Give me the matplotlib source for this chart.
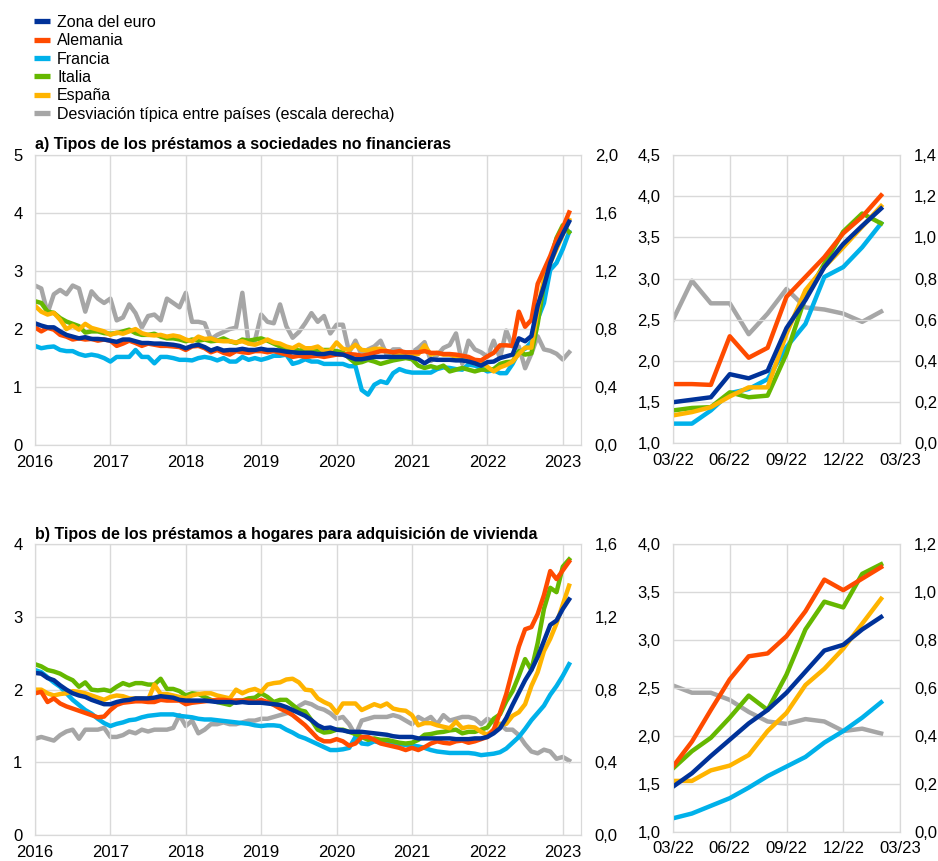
import numpy as np
import matplotlib
matplotlib.use("Agg")
import matplotlib.pyplot as plt
from matplotlib.ticker import FuncFormatter, MultipleLocator

plt.rcParams['font.family'] = ['Liberation Sans', 'DejaVu Sans']

# monthly data, Jan 2016 - Feb 2023
# a) loans to non-financial corporations
nfc_ea = [2.10, 2.06, 2.03, 2.03, 1.96, 1.90, 1.87, 1.84, 1.86, 1.83, 1.83, 1.82,
          1.80, 1.78, 1.82, 1.82, 1.79, 1.76, 1.76, 1.75, 1.75, 1.74, 1.73, 1.71,
          1.67, 1.71, 1.73, 1.69, 1.63, 1.67, 1.63, 1.64, 1.64, 1.66, 1.64, 1.64,
          1.66, 1.64, 1.64, 1.63, 1.61, 1.60, 1.59, 1.59, 1.59, 1.57, 1.57, 1.59,
          1.57, 1.56, 1.52, 1.48, 1.48, 1.50, 1.52, 1.52, 1.52, 1.52, 1.52, 1.52,
          1.51, 1.48, 1.41, 1.48, 1.47, 1.47, 1.47, 1.46, 1.46, 1.44, 1.41, 1.37,
          1.43, 1.44, 1.50, 1.53, 1.56, 1.84, 1.79, 1.88, 2.40, 2.74, 3.14, 3.42,
          3.64, 3.85]
nfc_de = [2.03, 1.96, 2.02, 1.99, 1.90, 1.87, 1.82, 1.84, 1.82, 1.83, 1.80, 1.82,
          1.80, 1.71, 1.75, 1.80, 1.76, 1.71, 1.75, 1.73, 1.71, 1.71, 1.70, 1.69,
          1.64, 1.70, 1.71, 1.67, 1.60, 1.64, 1.59, 1.56, 1.62, 1.60, 1.59, 1.62,
          1.62, 1.60, 1.62, 1.59, 1.56, 1.52, 1.54, 1.52, 1.53, 1.54, 1.52, 1.54,
          1.56, 1.56, 1.57, 1.56, 1.54, 1.56, 1.59, 1.62, 1.62, 1.60, 1.62, 1.60,
          1.60, 1.60, 1.62, 1.59, 1.59, 1.57, 1.57, 1.56, 1.54, 1.52, 1.47, 1.46,
          1.53, 1.59, 1.72, 1.72, 1.71, 2.30, 2.04, 2.16, 2.78, 3.02, 3.26, 3.55,
          3.75, 4.01]
nfc_fr = [1.71, 1.67, 1.69, 1.70, 1.64, 1.62, 1.62, 1.57, 1.54, 1.56, 1.54, 1.50,
          1.44, 1.52, 1.52, 1.52, 1.64, 1.52, 1.52, 1.41, 1.52, 1.52, 1.50, 1.47,
          1.47, 1.46, 1.50, 1.52, 1.50, 1.46, 1.50, 1.44, 1.44, 1.52, 1.47, 1.50,
          1.47, 1.50, 1.54, 1.54, 1.56, 1.40, 1.43, 1.48, 1.44, 1.44, 1.40, 1.40,
          1.40, 1.40, 1.36, 1.36, 0.95, 0.87, 1.04, 1.10, 1.07, 1.24, 1.31, 1.27,
          1.25, 1.25, 1.25, 1.25, 1.31, 1.34, 1.33, 1.31, 1.30, 1.39, 1.37, 1.33,
          1.27, 1.29, 1.24, 1.24, 1.40, 1.61, 1.66, 1.78, 2.17, 2.45, 3.02, 3.14,
          3.38, 3.67]
nfc_it = [2.48, 2.45, 2.30, 2.28, 2.19, 2.13, 2.09, 2.05, 1.94, 1.96, 1.96, 1.93,
          1.92, 1.93, 1.96, 1.99, 1.93, 1.90, 1.90, 1.92, 1.87, 1.84, 1.84, 1.82,
          1.79, 1.82, 1.80, 1.82, 1.79, 1.80, 1.84, 1.79, 1.76, 1.82, 1.80, 1.82,
          1.84, 1.80, 1.75, 1.70, 1.64, 1.67, 1.63, 1.64, 1.66, 1.63, 1.64, 1.64,
          1.62, 1.60, 1.50, 1.41, 1.43, 1.47, 1.44, 1.40, 1.43, 1.46, 1.48, 1.50,
          1.48, 1.37, 1.33, 1.36, 1.33, 1.37, 1.27, 1.30, 1.33, 1.30, 1.27, 1.30,
          1.30, 1.31, 1.40, 1.43, 1.44, 1.62, 1.56, 1.58, 2.09, 2.78, 3.18, 3.57,
          3.79, 3.67]
nfc_es = [2.40, 2.30, 2.25, 2.28, 2.16, 2.00, 2.06, 1.99, 2.09, 2.02, 1.99, 1.96,
          1.90, 1.94, 1.92, 1.96, 2.00, 1.93, 1.90, 1.89, 1.90, 1.87, 1.89, 1.87,
          1.82, 1.79, 1.87, 1.83, 1.84, 1.80, 1.79, 1.79, 1.77, 1.79, 1.75, 1.73,
          1.77, 1.82, 1.77, 1.75, 1.70, 1.67, 1.73, 1.67, 1.67, 1.70, 1.62, 1.63,
          1.77, 1.66, 1.64, 1.73, 1.64, 1.63, 1.66, 1.66, 1.62, 1.59, 1.59, 1.59,
          1.56, 1.57, 1.72, 1.56, 1.59, 1.56, 1.56, 1.52, 1.52, 1.47, 1.41, 1.44,
          1.35, 1.27, 1.34, 1.38, 1.44, 1.57, 1.68, 1.68, 2.33, 2.86, 3.14, 3.38,
          3.63, 3.88]
nfc_sd = [1.10, 1.08, 0.91, 1.04, 1.07, 1.04, 1.10, 1.08, 0.92, 1.06, 1.01, 0.98,
          1.01, 0.86, 0.88, 0.97, 0.91, 0.81, 0.89, 0.90, 0.86, 1.01, 0.98, 0.95,
          1.05, 0.85, 0.85, 0.84, 0.73, 0.76, 0.78, 0.80, 0.81, 1.05, 0.70, 0.72,
          0.90, 0.85, 0.84, 0.97, 0.82, 0.74, 0.78, 0.84, 0.91, 0.85, 0.89, 0.77,
          0.83, 0.83, 0.64, 0.72, 0.62, 0.66, 0.68, 0.72, 0.62, 0.66, 0.66, 0.62,
          0.64, 0.67, 0.71, 0.58, 0.62, 0.67, 0.69, 0.77, 0.56, 0.72, 0.66, 0.64,
          0.61, 0.72, 0.60, 0.79, 0.68, 0.68, 0.53, 0.63, 0.75, 0.66, 0.65, 0.63,
          0.59, 0.64]

# b) loans to households for house purchase
hh_ea = [2.23, 2.22, 2.16, 2.13, 2.06, 2.00, 1.95, 1.92, 1.90, 1.86, 1.83, 1.80,
         1.80, 1.83, 1.85, 1.86, 1.88, 1.88, 1.88, 1.89, 1.91, 1.90, 1.89, 1.86,
         1.85, 1.85, 1.85, 1.85, 1.84, 1.83, 1.83, 1.83, 1.82, 1.83, 1.82, 1.82,
         1.82, 1.81, 1.80, 1.79, 1.76, 1.72, 1.68, 1.64, 1.58, 1.51, 1.47, 1.48,
         1.45, 1.44, 1.42, 1.42, 1.42, 1.41, 1.40, 1.39, 1.38, 1.36, 1.35, 1.35,
         1.35, 1.33, 1.33, 1.33, 1.33, 1.33, 1.33, 1.32, 1.32, 1.32, 1.33, 1.33,
         1.35, 1.40, 1.47, 1.61, 1.79, 1.96, 2.13, 2.27, 2.45, 2.67, 2.89, 2.95,
         3.11, 3.24]
hh_de = [1.95, 1.97, 1.83, 1.88, 1.81, 1.77, 1.74, 1.71, 1.68, 1.65, 1.62, 1.63,
         1.72, 1.79, 1.82, 1.83, 1.84, 1.84, 1.83, 1.83, 1.86, 1.85, 1.85, 1.85,
         1.80, 1.82, 1.83, 1.84, 1.85, 1.86, 1.86, 1.85, 1.85, 1.85, 1.85, 1.83,
         1.86, 1.83, 1.79, 1.74, 1.70, 1.65, 1.58, 1.51, 1.42, 1.33, 1.29, 1.29,
         1.32, 1.29, 1.23, 1.26, 1.35, 1.35, 1.31, 1.26, 1.24, 1.22, 1.20, 1.17,
         1.20, 1.17, 1.21, 1.26, 1.29, 1.27, 1.26, 1.29, 1.30, 1.27, 1.29, 1.32,
         1.35, 1.45, 1.68, 1.94, 2.27, 2.59, 2.83, 2.86, 3.04, 3.30, 3.63, 3.52,
         3.64, 3.76]
hh_fr = [2.27, 2.24, 2.17, 2.10, 2.04, 1.95, 1.86, 1.79, 1.72, 1.67, 1.60, 1.54,
         1.50, 1.53, 1.55, 1.58, 1.59, 1.62, 1.64, 1.65, 1.66, 1.66, 1.66, 1.64,
         1.63, 1.62, 1.60, 1.59, 1.59, 1.58, 1.57, 1.56, 1.55, 1.54, 1.53, 1.51,
         1.50, 1.51, 1.51, 1.50, 1.45, 1.41, 1.36, 1.33, 1.29, 1.25, 1.21, 1.17,
         1.17, 1.18, 1.20, 1.35, 1.26, 1.25, 1.29, 1.27, 1.26, 1.26, 1.25, 1.24,
         1.23, 1.22, 1.20, 1.17, 1.15, 1.14, 1.13, 1.13, 1.13, 1.13, 1.12, 1.10,
         1.11, 1.12, 1.14, 1.19, 1.27, 1.35, 1.46, 1.58, 1.68, 1.78, 1.93, 2.05,
         2.19, 2.35]
hh_it = [2.35, 2.32, 2.27, 2.25, 2.22, 2.17, 2.13, 2.04, 2.10, 2.00, 1.99, 2.00,
         1.98, 2.04, 2.09, 2.06, 2.09, 2.09, 2.07, 2.07, 2.15, 2.01, 2.01, 1.98,
         1.92, 1.95, 1.94, 1.90, 1.86, 1.83, 1.81, 1.79, 1.85, 1.85, 1.88, 1.89,
         1.95, 1.90, 1.83, 1.86, 1.86, 1.79, 1.72, 1.70, 1.58, 1.45, 1.41, 1.42,
         1.45, 1.45, 1.42, 1.39, 1.35, 1.31, 1.33, 1.31, 1.31, 1.29, 1.27, 1.26,
         1.27, 1.31, 1.38, 1.39, 1.41, 1.42, 1.44, 1.45, 1.40, 1.42, 1.42, 1.45,
         1.48, 1.60, 1.66, 1.84, 1.98, 2.19, 2.42, 2.27, 2.64, 3.11, 3.40, 3.34,
         3.69, 3.79]
hh_es = [2.00, 2.00, 1.95, 1.92, 1.94, 1.95, 1.98, 1.97, 1.95, 1.92, 1.89, 1.86,
         1.90, 1.92, 1.91, 1.88, 1.88, 1.88, 1.86, 2.07, 1.94, 1.94, 1.92, 1.90,
         1.88, 1.92, 1.94, 1.95, 1.95, 1.92, 1.90, 1.88, 2.00, 1.95, 1.99, 2.01,
         1.97, 2.07, 2.09, 2.10, 2.14, 2.15, 2.10, 2.00, 1.99, 1.88, 1.83, 1.79,
         1.68, 1.81, 1.81, 1.81, 1.72, 1.76, 1.80, 1.77, 1.81, 1.74, 1.72, 1.71,
         1.65, 1.51, 1.54, 1.54, 1.51, 1.49, 1.47, 1.56, 1.47, 1.49, 1.48, 1.42,
         1.38, 1.45, 1.53, 1.53, 1.64, 1.69, 1.80, 2.05, 2.24, 2.53, 2.70, 2.91,
         3.17, 3.43]
hh_sd = [0.53, 0.54, 0.53, 0.52, 0.55, 0.57, 0.58, 0.53, 0.58, 0.58, 0.58, 0.59,
         0.54, 0.54, 0.55, 0.57, 0.56, 0.58, 0.57, 0.58, 0.58, 0.58, 0.59, 0.66,
         0.60, 0.63, 0.56, 0.58, 0.61, 0.61, 0.62, 0.61, 0.61, 0.62, 0.63, 0.63,
         0.64, 0.64, 0.65, 0.66, 0.67, 0.68, 0.71, 0.73, 0.72, 0.70, 0.69, 0.67,
         0.64, 0.65, 0.61, 0.55, 0.63, 0.64, 0.65, 0.65, 0.65, 0.66, 0.65, 0.63,
         0.61, 0.65, 0.63, 0.65, 0.61, 0.66, 0.63, 0.64, 0.65, 0.65, 0.64, 0.61,
         0.64, 0.62, 0.61, 0.58, 0.58, 0.55, 0.50, 0.46, 0.45, 0.47, 0.46, 0.42,
         0.43, 0.41]

labels = ["Zona del euro", "Alemania", "Francia", "Italia", "España",
          "Desviación típica entre países (escala derecha)"]
colors = ["#003299", "#FF4B00", "#00B1EA", "#65B800", "#FFB400", "#A6A6A6"]

t = 2016 + np.arange(len(nfc_ea)) / 12.0
t_short = np.arange(12)  # 0 = 03/22

GRID = "#D9D9D9"
LW = 3.2
FS = 12


def comma(dec):
    return FuncFormatter(lambda v, p: f"{v:.{dec}f}".replace(".", ","))


def style(ax, ax2):
    for a in (ax, ax2):
        for s in a.spines.values():
            s.set_color(GRID)
        a.tick_params(length=0, labelsize=FS, colors="#000000")
    ax.grid(True, color=GRID, lw=1)
    ax.set_zorder(ax2.get_zorder() + 1)
    ax.patch.set_visible(False)


def panel(rect, x, series, sd, xlim, ylim, ystep, y2lim, y2step, ydec, y2dec,
          short=False, title=None):
    ax = fig.add_axes(rect)
    ax2 = ax.twinx()
    ax2.plot(x, sd, color=colors[5], lw=LW, solid_joinstyle="round")
    for i in [2, 3, 4, 1, 0]:
        ax.plot(x, series[i], color=colors[i], lw=LW, solid_joinstyle="round")
    ax.set_xlim(*xlim)
    ax.set_ylim(*ylim)
    ax2.set_ylim(*y2lim)
    ax.yaxis.set_major_locator(MultipleLocator(ystep))
    ax2.yaxis.set_major_locator(MultipleLocator(y2step))
    ax.yaxis.set_major_formatter(comma(ydec))
    ax2.yaxis.set_major_formatter(comma(y2dec))
    if short:
        ax.set_xticks([0, 3, 6, 9, 12])
        ax.set_xticklabels(["03/22", "06/22", "09/22", "12/22", "03/23"])
    else:
        ax.set_xticks(range(2016, 2024))
    style(ax, ax2)
    ax.tick_params(axis="y", pad=9)
    ax2.tick_params(axis="y", pad=10)
    ax.tick_params(axis="x", pad=7)
    if title:
        ax.set_title(title, loc="left", fontsize=11.5, fontweight="bold", pad=4)
    return ax


fig = plt.figure(figsize=(9.38, 8.61), dpi=100)

nfc = [nfc_ea, nfc_de, nfc_fr, nfc_it, nfc_es]
hh = [hh_ea, hh_de, hh_fr, hh_it, hh_es]

panel([0.0373, 0.483, 0.582, 0.337], t, nfc, nfc_sd, (2016, 2023.24),
      (0, 5), 1, (0, 2.0), 0.4, 0, 1,
      title="a) Tipos de los préstamos a sociedades no financieras")
panel([0.7175, 0.485, 0.242, 0.335], t_short, [s[-12:] for s in nfc], nfc_sd[-12:],
      (0, 12), (1.0, 4.5), 0.5, (0, 1.4), 0.2, 1, 1, short=True)

panel([0.0373, 0.030, 0.582, 0.338], t, hh, hh_sd, (2016, 2023.24),
      (0, 4), 1, (0, 1.6), 0.4, 0, 1,
      title="b) Tipos de los préstamos a hogares para adquisición de vivienda")
panel([0.7175, 0.034, 0.242, 0.334], t_short, [s[-12:] for s in hh], hh_sd[-12:],
      (0, 12), (1.0, 4.0), 0.5, (0, 1.2), 0.2, 1, 1, short=True)

handles = [plt.Line2D([], [], color=c, lw=3.8, solid_capstyle="butt") for c in colors]
fig.legend(handles, labels, loc="upper left", bbox_to_anchor=(0.0294, 0.990),
           frameon=False, fontsize=11.5, handlelength=1.0, handletextpad=0.45,
           labelspacing=0.21, borderaxespad=0)

fig.savefig("out.png", dpi=100)
